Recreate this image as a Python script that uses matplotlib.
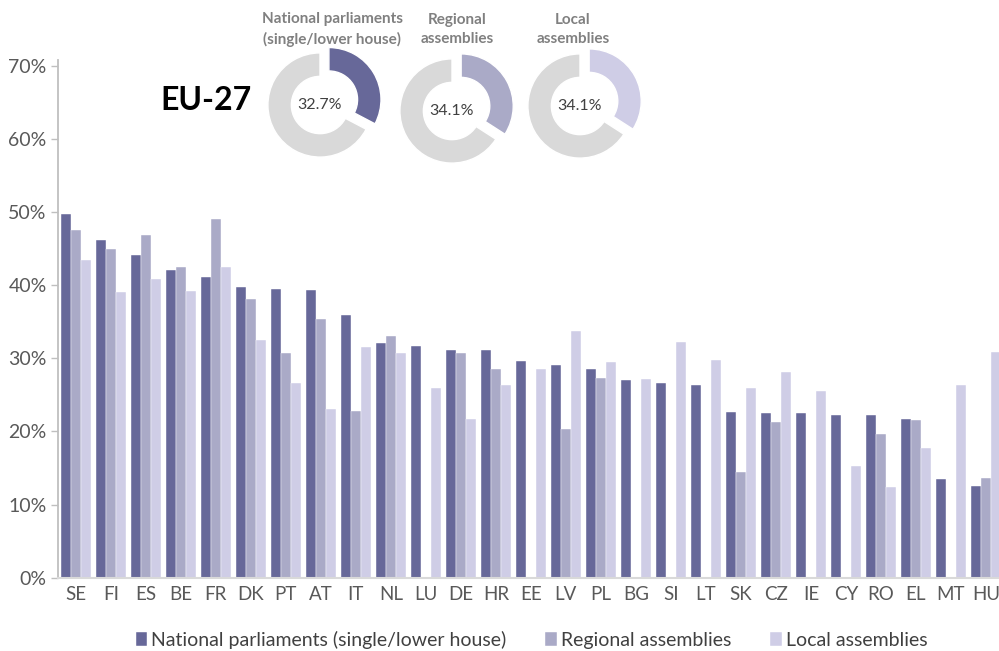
import matplotlib.pyplot as plt
import numpy as np

# datos por pais (% mujeres)
paises = ['SE', 'FI', 'ES', 'BE', 'FR', 'DK', 'PT', 'AT', 'IT', 'NL', 'LU', 'DE', 'HR', 'EE',
          'LV', 'PL', 'BG', 'SI', 'LT', 'SK', 'CZ', 'IE', 'CY', 'RO', 'EL', 'MT', 'HU']
nacional = [49.7, 46.2, 44.1, 42.1, 41.1, 39.7, 39.5, 39.4, 36.0, 32.1, 31.7, 31.2, 31.1, 29.7,
            29.1, 28.6, 27.1, 26.7, 26.3, 22.7, 22.5, 22.5, 22.3, 22.3, 21.7, 13.5, 12.5]
nan = np.nan
regional = [47.6, 45.0, 46.9, 42.5, 49.1, 38.1, 30.8, 35.4, 22.8, 33.0, nan, 30.8, 28.5, nan,
            20.4, 27.3, nan, nan, nan, 14.4, 21.3, nan, nan, 19.6, 21.6, nan, 13.6]
local = [43.4, 39.1, 40.9, 39.2, 42.5, 32.5, 26.6, 23.1, 31.6, 30.8, 25.9, 21.7, 26.4, 28.6,
         33.8, 29.5, 27.2, 32.3, 29.8, 26.0, 28.1, 25.5, 15.3, 12.4, 17.8, 26.3, 30.9]

series = ['National parliaments (single/lower house)', 'Regional assemblies', 'Local assemblies']
titulos_donut = ['National parliaments\n(single/lower house)', 'Regional\nassemblies', 'Local\nassemblies']
eu27 = [32.7, 34.1, 34.1]
colores = ['#676899', '#aaaac7', '#cfcde6']

plt.rcParams['font.family'] = ['Lato', 'DejaVu Sans']

fig = plt.figure(figsize=(9.99, 6.51), dpi=100)
ax = fig.add_axes([0.0584, 0.1126, 0.946, 0.795])

x = np.arange(len(paises))
w = 0.2857
for k, vals in enumerate([nacional, regional, local]):
    ax.bar(x + (k - 1) * w, vals, width=w, color=colores[k], label=series[k],
           edgecolor='white', linewidth=0.3)

ax.set_xlim(-0.5, len(paises) - 0.5)
ax.set_ylim(0, 70.8)
ax.set_yticks(range(0, 80, 10))
ax.set_yticklabels([f'{v}%' for v in range(0, 80, 10)])
ax.set_xticks(x)
ax.set_xticklabels(paises)
ax.tick_params(axis='y', colors='#bfbfbf', labelcolor='#595959', labelsize=14, length=5, width=1)
ax.tick_params(axis='x', length=0, labelcolor='#595959', labelsize=13.5, pad=6)
for s in ['top', 'right']:
    ax.spines[s].set_visible(False)
ax.spines['left'].set_color('#bfbfbf')
ax.spines['left'].set_linewidth(1.3)
ax.spines['bottom'].set_color('#d9d9d9')
ax.spines['bottom'].set_linewidth(1.5)

fig.legend(loc='center', bbox_to_anchor=(0.532, 0.017), ncol=3, frameon=False,
           fontsize=14, handlelength=0.6, handleheight=0.7, handletextpad=0.2,
           columnspacing=2.0, labelcolor='#404040')

# donuts EU-27
centros = [(320, 105), (452, 111), (580, 106)]
centros_titulo = [332, 457, 573]
W = 125
for k in range(3):
    cx, cy = centros[k]
    dax = fig.add_axes([(cx - W / 2) / 999, (651 - cy - W / 2) / 651, W / 999, W / 651])
    dax.pie([eu27[k], 100 - eu27[k]], colors=[colores[k], '#d9d9d9'], startangle=90,
            counterclock=False, explode=[0.2, 0], wedgeprops=dict(width=0.45, edgecolor='white', linewidth=1))
    dax.set_xlim(-1.2, 1.2)
    dax.set_ylim(-1.2, 1.2)
    dax.set_aspect('equal')
    dax.text(0, 0, f'{eu27[k]}%', ha='center', va='center', fontsize=11.5, color='#404040')
    fig.text(centros_titulo[k] / 999, 1 - 29.5 / 651, titulos_donut[k], ha='center', va='center',
             fontsize=11, fontweight='bold', color='#808080', linespacing=1.45)

fig.text(160 / 999, 1 - 100 / 651, 'EU-27', ha='left', va='center', fontsize=23, fontweight='bold',
         color='black')

plt.savefig('out.png', dpi=100)
